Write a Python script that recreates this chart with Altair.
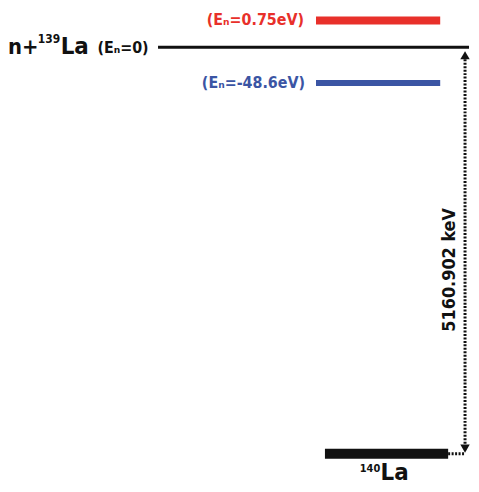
import altair as alt
import pandas as pd

FONT = "DejaVu Sans Condensed, Roboto, Liberation Sans, sans-serif"

# Level bars (schematic diagram units)
level_names = ["resonance", "bound", "capture", "product"]
level_x0 = [317, 317, 158, 326]
level_x1 = [442, 442, 471, 450]
level_y = [19, 82, 46, 455]
level_color = ["#e8302a", "#3b55a4", "#111111", "#111111"]
level_width = [8, 6, 3, 10]

# Label pieces
label_text = ["(Eₙ=0.75eV)", "(Eₙ=-48.6eV)", "n+", "139", "La", "(Eₙ=0)", "140", "La"]
label_x = [305, 306, 7, 37, 60, 97, 361, 382]
label_y = [19, 82, 46, 38, 46, 47, 470, 475]
label_size = [16, 16, 22, 12, 24, 16, 11, 24]
label_align = ["right", "right", "left", "left", "left", "left", "left", "left"]
label_color = ["#e8302a", "#3b55a4", "#111111", "#111111", "#111111", "#111111", "#111111", "#111111"]

gap_text = "5160.902 keV"
gap_x = 452
gap_y = 270
arrow_x = 467
arrow_top = 54
arrow_bot = 450

xs = alt.Scale(domain=[8, 471], range=[0, 463])
ys = alt.Scale(domain=[8, 484], range=[0, 476])

levels = pd.DataFrame({"name": level_names, "x0": level_x0, "x1": level_x1,
                       "y": level_y, "c": level_color, "w": level_width})

bars = alt.Chart(levels).mark_rule().encode(
    x=alt.X("x0:Q", scale=xs, axis=None),
    x2="x1:Q",
    y=alt.Y("y:Q", scale=ys, axis=None),
    color=alt.Color("c:N", scale=None),
    strokeWidth=alt.StrokeWidth("w:Q", scale=None),
)

labels = pd.DataFrame({"t": label_text, "x": label_x, "y": label_y, "s": label_size,
                       "a": label_align, "c": label_color})
texts = []
for i, row in labels.iterrows():
    texts.append(
        alt.Chart(labels.iloc[[i]]).mark_text(
            font=FONT, fontWeight="bold", align=row["a"], baseline="middle",
            fontSize=int(row["s"]), color=row["c"]
        ).encode(x=alt.X("x:Q", scale=xs, axis=None), y=alt.Y("y:Q", scale=ys, axis=None), text="t:N")
    )

arrow = pd.DataFrame({"x": [arrow_x], "y0": [arrow_top + 4], "y1": [arrow_bot - 4]})
arrow_line = alt.Chart(arrow).mark_rule(strokeDash=[2, 1.5], strokeWidth=3, color="#111111").encode(
    x=alt.X("x:Q", scale=xs, axis=None), y=alt.Y("y0:Q", scale=ys, axis=None), y2="y1:Q")

heads = pd.DataFrame({"x": [arrow_x, arrow_x], "y": [arrow_top, arrow_bot],
                      "shape": ["triangle-up", "triangle-down"]})
head_marks = alt.Chart(heads).mark_point(filled=True, size=90, color="#111111", opacity=1).encode(
    x=alt.X("x:Q", scale=xs, axis=None), y=alt.Y("y:Q", scale=ys, axis=None),
    shape=alt.Shape("shape:N", scale=None))

hdot = pd.DataFrame({"x0": [level_x1[3]], "x1": [arrow_x], "y": [level_y[3]]})
hdot_line = alt.Chart(hdot).mark_rule(strokeDash=[2, 1.5], strokeWidth=3, color="#111111").encode(
    x=alt.X("x0:Q", scale=xs, axis=None), x2="x1:Q", y=alt.Y("y:Q", scale=ys, axis=None))

gap = pd.DataFrame({"t": [gap_text], "x": [gap_x], "y": [gap_y]})
gap_label = alt.Chart(gap).mark_text(font=FONT, fontWeight="bold", fontSize=18, angle=270,
                                     color="#111111", align="center", baseline="middle").encode(
    x=alt.X("x:Q", scale=xs, axis=None), y=alt.Y("y:Q", scale=ys, axis=None), text="t:N")

chart = alt.layer(bars, arrow_line, hdot_line, head_marks, gap_label, *texts).properties(
    width=463, height=476, padding=0, background="white"
).configure_view(stroke=None)

chart.save("out.html", embed_options={"renderer": "svg", "actions": False})
